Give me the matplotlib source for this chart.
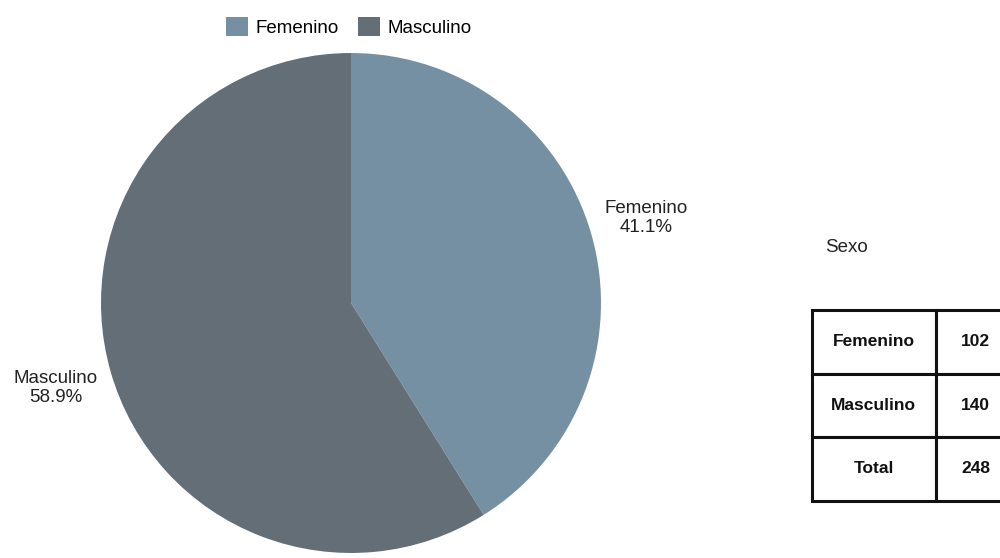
import matplotlib
matplotlib.use("Agg")
import matplotlib.pyplot as plt
from matplotlib.patches import Patch

plt.rcParams['font.family'] = ['Liberation Sans', 'DejaVu Sans']

categorias = ["Femenino", "Masculino"]
porcentajes = [41.1, 58.9]
conteos = ["102", "140", "248"]
filas_tabla = ["Femenino", "Masculino", "Total"]
colores = ["#7590a3", "#636e76"]

fig = plt.figure(figsize=(10, 5.58), dpi=100)

# pie
ax = fig.add_axes([0.101, 0.009, 0.5, 0.896])
etiquetas = [f"{c}\n{p}%" for c, p in zip(categorias, porcentajes)]
wedges, textos = ax.pie(porcentajes, colors=colores, startangle=90, counterclock=False,
                        labels=etiquetas, labeldistance=1.23,
                        textprops={'fontsize': 13.5, 'color': '#222222'})
for t in textos:
    t.set_horizontalalignment('center')
    t.set_multialignment('center')
    t.set_verticalalignment('center')
ax.set_xlim(-1, 1)
ax.set_ylim(-1, 1)
ax.set_aspect('equal')

# legend
handles = [Patch(facecolor=c, edgecolor='none') for c in colores]
fig.legend(handles, categorias, loc='center', bbox_to_anchor=(0.349, 0.952), ncol=2,
           frameon=False, fontsize=13.5, handlelength=1.2, handleheight=1.15,
           handletextpad=0.4, columnspacing=1.0)

# table
fig.text(0.825, 1 - 248 / 558, "Sexo", fontsize=13.5, ha='left', va='center', color='#222222')
tax = fig.add_axes([0.812, (558 - 500.7) / 558, 0.204, 190.7 / 558])
tax.axis('off')
celdas = [[f, n] for f, n in zip(filas_tabla, conteos)]
tabla = tax.table(cellText=celdas, bbox=[0, 0, 1, 1], colWidths=[123.7, 80.6], cellLoc='center')
tabla.auto_set_font_size(False)
for (r, c), cell in tabla.get_celld().items():
    cell.set_linewidth(2.2)
    cell.set_edgecolor('#111111')
    cell.get_text().set_fontsize(12.5)
    cell.get_text().set_fontweight('bold')
    cell.get_text().set_color('#111111')

fig.savefig("out.png", dpi=100)
